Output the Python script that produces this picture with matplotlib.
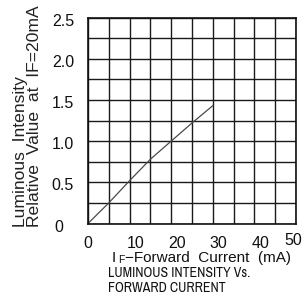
import matplotlib
matplotlib.use("Agg")
import matplotlib.pyplot as plt
from matplotlib import font_manager
from matplotlib.transforms import ScaledTranslation

# ---- data ----
current_ma = [0, 5, 10, 15, 20, 25, 30]
rel_intensity = [0.0, 0.25, 0.52, 0.78, 1.0, 1.22, 1.43]
x_ticks = [0, 10, 20, 30, 40, 50]
x_tick_labels = ["0", "10", "20", "30", "40", "50"]
y_ticks = [0, 0.5, 1.0, 1.5, 2.0, 2.5]
y_tick_labels = ["0", "0.5", "1.0", "1.5", "2.0", "2.5"]
ylabel_line1 = "Luminous  Intensity"
ylabel_line2 = "Relative  Value  at  IF=20mA"
xlabel_main = "\u2212Forward  Current  (mA)"
title_lines = ["LUMINOUS INTENSITY Vs.", "FORWARD CURRENT"]

names = {f.name for f in font_manager.fontManager.ttflist}
FONT = "Liberation Sans" if "Liberation Sans" in names else "DejaVu Sans"
NARROW = None
for cand in ["Liberation Sans Narrow", "Archivo Narrow", "Roboto Condensed", "Open Sans Condensed"]:
    if cand in names:
        NARROW = cand
        break
plt.rcParams["font.family"] = [FONT, "DejaVu Sans"]

W, H = 306, 300
fig = plt.figure(figsize=(W / 100, H / 100), dpi=100)
ax = fig.add_axes([88 / W, (H - 223.5) / H, 208 / W, 206 / H])

ax.plot(current_ma, rel_intensity, color="#4a4a4a", lw=0.9)

ax.set_xlim(0, 50)
ax.set_ylim(0, 2.5)
ax.set_xticks(x_ticks)
ax.set_xticklabels(x_tick_labels)
ax.set_yticks(y_ticks)
ax.set_yticklabels(y_tick_labels)
ax.set_xticks([5, 15, 25, 35, 45], minor=True)
ax.set_yticks([0.25, 0.75, 1.25, 1.75, 2.25], minor=True)
ax.grid(True, which="both", color="#1a1a1a", lw=1.0)
ax.set_axisbelow(True)
for s in ax.spines.values():
    s.set_color("#111111")
    s.set_linewidth(1.2)
ax.tick_params(which="both", length=0)
ax.tick_params(axis="x", labelsize=11.5, pad=9, colors="#111111")
ax.tick_params(axis="y", labelsize=11.5, pad=10, colors="#111111")

# small per-label offsets as in the reference
for lab in ax.get_xticklabels():
    t = lab.get_text()
    if t in ("10", "20", "30", "40"):
        dx, dy = 6, 0
    elif t == "50":
        dx, dy = -3, 3
    else:
        dx, dy = 0, 0
    lab.set_transform(lab.get_transform() + ScaledTranslation(dx / 100, dy / 100, fig.dpi_scale_trans))
for lab in ax.get_yticklabels():
    t = lab.get_text()
    dx, dy = (-11, -2) if t == "0" else (0, -2)
    lab.set_transform(lab.get_transform() + ScaledTranslation(dx / 100, dy / 100, fig.dpi_scale_trans))

renderer = fig.canvas.get_renderer()


def fit(txt, target_px, horizontal=True):
    bb = txt.get_window_extent(renderer)
    size = bb.width if horizontal else bb.height
    txt.set_fontsize(txt.get_fontsize() * target_px / size)


# y label: two rotated lines, both starting at the same bottom
yl1 = fig.text(21 / W, (H - 227) / H, ylabel_line1, rotation=90, ha="center", va="bottom",
               fontsize=12, color="#222222")
yl2 = fig.text(35 / W, (H - 227) / H, ylabel_line2, rotation=90, ha="center", va="bottom",
               fontsize=12, color="#222222")
fit(yl2, 222, horizontal=False)
yl1.set_fontsize(yl2.get_fontsize())

# x label with small-caps F
t1 = fig.text(112 / W, (H - 262) / H, "I", fontsize=11, ha="left", va="baseline", color="#111111")
t2 = ax.annotate("F", xy=(1, 0), xycoords=t1, xytext=(1, 0), textcoords="offset points",
                 fontsize=7.5, ha="left", va="bottom", color="#111111")
t3 = ax.annotate(xlabel_main, xy=(1, 0), xycoords=t2, xytext=(1, 0), textcoords="offset points",
                 fontsize=11, ha="left", va="bottom", color="#111111", annotation_clip=False)

cap_kw = dict(fontsize=10.5, ha="left", va="baseline", color="#111111")
if NARROW:
    cap_kw["family"] = [NARROW, FONT]
c1 = fig.text(108 / W, (H - 277) / H, title_lines[0], **cap_kw)
c2 = fig.text(108 / W, (H - 292) / H, title_lines[1], **cap_kw)
fit(c1, 142)
c2.set_fontsize(c1.get_fontsize())

fig.savefig("out.png", dpi=100)
